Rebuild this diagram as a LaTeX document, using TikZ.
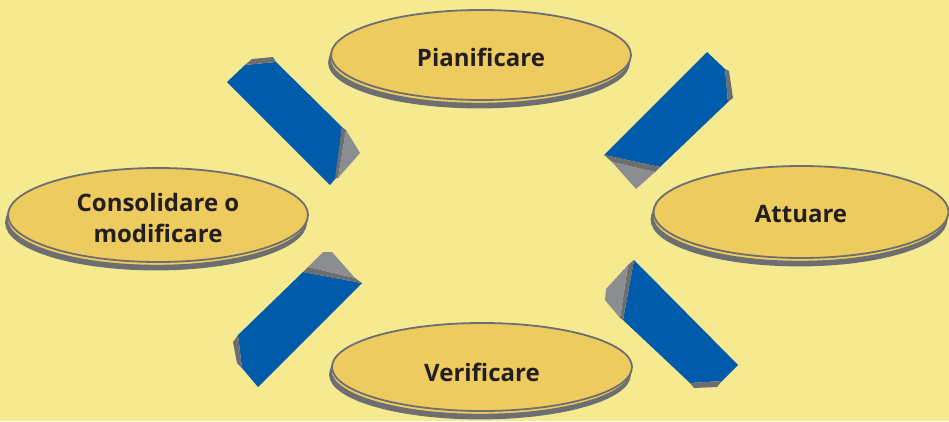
\documentclass[tikz,border=0pt]{standalone}
\usepackage{fontspec}
\setmainfont{Open Sans}
\usetikzlibrary{shapes.geometric,shadows}
\definecolor{bgyellow}{HTML}{F5EA90}
\definecolor{ellfill}{HTML}{EDCB5F}
\definecolor{ellline}{HTML}{6D6E71}
\definecolor{barblue}{HTML}{005BAA}
\definecolor{darkgr}{HTML}{6D6E71}
\definecolor{lightgr}{HTML}{8C8D90}
\definecolor{txt}{HTML}{231F20}
\tikzset{
  phase/.style={ellipse, fill=ellfill, draw=ellline, line width=1.8pt,
    text=txt, font=\fontsize{24}{31}\selectfont\bfseries, align=center,
    inner sep=0pt,
    copy shadow={shadow xshift=-2pt, shadow yshift=-7.5pt, fill=darkgr, draw=darkgr},
    copy shadow={shadow xshift=-1pt, shadow yshift=-3.5pt, fill=ellfill, draw=darkgr, line width=1.4pt}},
  bluepart/.style={fill=barblue},
  darkpart/.style={fill=darkgr},
  lightpart/.style={fill=lightgr}
}
\begin{document}
\begin{tikzpicture}[x=1pt,y=-1pt]
\fill[bgyellow] (0,0) rectangle (949,421);
\useasboundingbox (0,0) rectangle (949,421);

% bars
% top-left
\fill[bluepart] (227,82) -- (245,65) -- (276,62) -- (342,127) -- (336,178) -- (330,185) -- cycle;
\fill[darkpart] (245,65) -- (252,59) -- (273,57) -- (276,62) -- cycle;
\fill[darkpart] (342,127) -- (346,130) -- (338,178) -- (335,178) -- cycle;
\fill[lightpart] (346,130) -- (360,153) -- (338,178) -- cycle;
% top-right
\fill[bluepart] (604,155) -- (707,52) -- (725,69) -- (728,102) -- (660,167) -- cycle;
\fill[darkpart] (725,69) -- (729,71) -- (733,98) -- (728,102) -- cycle;
\fill[darkpart] (604,155) -- (660,167) -- (655,172) -- (612,162) -- cycle;
\fill[lightpart] (612,162) -- (655,172) -- (636,189) -- cycle;
% bottom-left
\fill[bluepart] (303,272) -- (362,283) -- (258,387) -- (242,368) -- (238,335) -- cycle;
\fill[darkpart] (303,272) -- (308,267) -- (355,278) -- (362,283) -- cycle;
\fill[lightpart] (308,267) -- (323,252) -- (332,252) -- (355,278) -- cycle;
\fill[darkpart] (238,335) -- (233,342) -- (237,363) -- (242,368) -- cycle;
% bottom-right
\fill[bluepart] (634,260) -- (738,365) -- (722,381) -- (690,383) -- (623,320) -- cycle;
\fill[darkpart] (634,260) -- (628,265) -- (620,318) -- (623,320) -- cycle;
\fill[lightpart] (628,265) -- (606,289) -- (605,300) -- (620,318) -- cycle;
\fill[darkpart] (690,383) -- (722,381) -- (717,387) -- (694,388) -- cycle;

% ellipses
\node[phase, minimum width=300pt, minimum height=90pt] (plan) at (481,55) {\rule{0pt}{24pt}Pianificare};
\node[phase, minimum width=295pt, minimum height=92pt] (act) at (801,212) {\rule{0pt}{22pt}Attuare};
\node[phase, minimum width=300pt, minimum height=88pt] (check) at (482,367) {\rule{0pt}{29pt}Verificare};
\node[phase, minimum width=300pt, minimum height=94pt] (cons) at (158,215) {\rule{0pt}{25pt}Consolidare o\\modificare};
\end{tikzpicture}
\end{document}
